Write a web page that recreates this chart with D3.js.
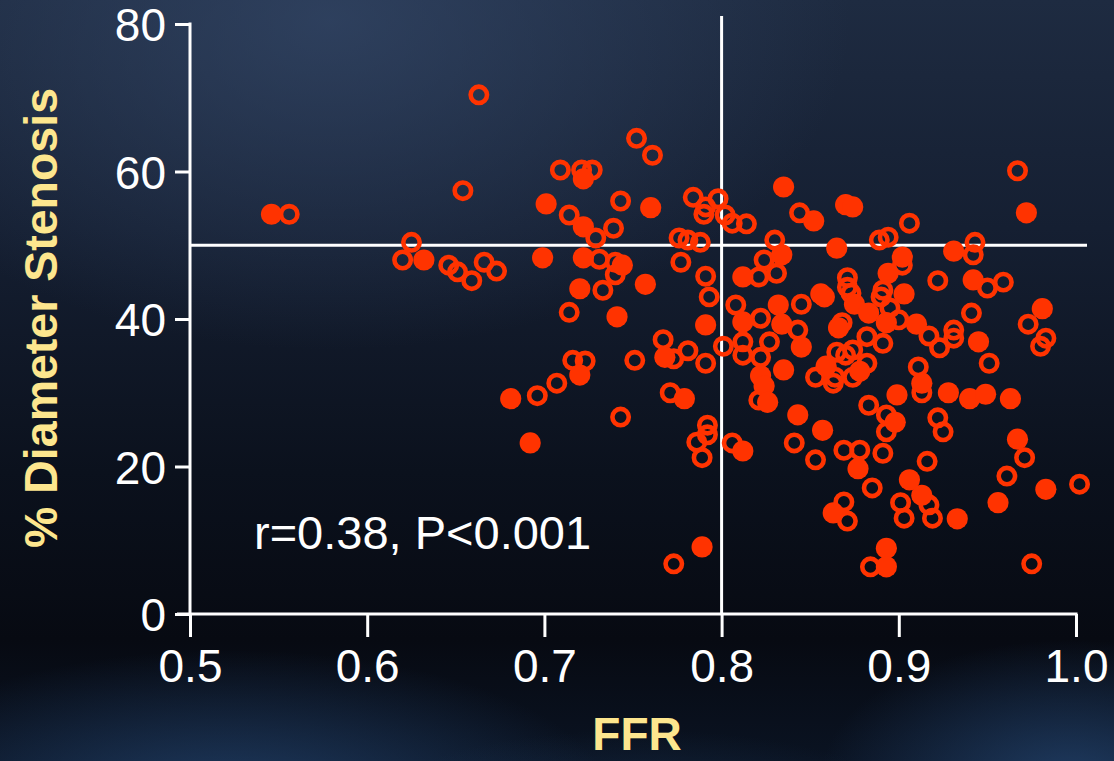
<!DOCTYPE html>
<html>
<head>
<meta charset="utf-8">
<script src="https://cdn.jsdelivr.net/npm/d3@7"></script>
<style>
  html, body { margin: 0; padding: 0; background: #0b111d; }
  svg { display: block; }
</style>
</head>
<body>
<div id="chart"></div>
<script>
// Fractional flow reserve vs. percent diameter stenosis
const xTicks = [0.5, 0.6, 0.7, 0.8, 0.9, 1.0];
const yTicks = [0, 20, 40, 60, 80];
const ffrCutoff = 0.8;
const stenosisCutoff = 50;
const statsLabel = "r=0.38, P<0.001";

// [FFR, % diameter stenosis] — solid markers
const solidPts = [
  [0.546, 54.2], [0.632, 48.0], [0.722, 59.0], [0.701, 55.6], [0.760, 55.1],
  [0.722, 52.5], [0.699, 48.3], [0.722, 48.3], [0.744, 47.3], [0.720, 44.1],
  [0.757, 44.7], [0.741, 40.3], [0.791, 39.2], [0.768, 34.8], [0.720, 32.4],
  [0.681, 29.2], [0.779, 29.2], [0.692, 23.2], [0.789, 9.1], [0.812, 45.7],
  [0.812, 39.6], [0.812, 22.1], [0.835, 57.9], [0.852, 53.3], [0.870, 55.5],
  [0.874, 55.2], [0.865, 49.6], [0.834, 48.7], [0.902, 48.4], [0.894, 46.2],
  [0.903, 43.4], [0.856, 43.4], [0.858, 43.0], [0.832, 41.9], [0.875, 42.0],
  [0.883, 40.8], [0.893, 39.5], [0.910, 39.3], [0.834, 39.3], [0.866, 38.8],
  [0.845, 36.2], [0.859, 33.6], [0.835, 33.1], [0.878, 32.9], [0.822, 32.3],
  [0.824, 30.9], [0.826, 28.7], [0.899, 29.7], [0.898, 26.0], [0.843, 27.0],
  [0.857, 24.9], [0.877, 19.7], [0.906, 18.2], [0.863, 13.7], [0.893, 8.9],
  [0.893, 6.4], [0.972, 54.4], [0.931, 49.2], [0.942, 45.3], [0.945, 36.9],
  [0.981, 41.4], [0.913, 31.3], [0.928, 30.0], [0.940, 29.2], [0.949, 29.8],
  [0.963, 29.2], [0.967, 23.7], [0.913, 16.1], [0.933, 12.9], [0.956, 15.1],
  [0.983, 16.9]
];

// [FFR, % diameter stenosis] — open markers
const hollowPts = [
  [0.556, 54.2], [0.625, 50.4], [0.620, 48.0], [0.646, 47.3], [0.651, 46.4],
  [0.659, 45.2], [0.666, 47.7], [0.673, 46.5], [0.654, 57.4], [0.663, 70.4],
  [0.752, 64.5], [0.761, 62.2], [0.709, 60.2], [0.721, 60.2], [0.727, 60.2],
  [0.743, 56.0], [0.714, 54.1], [0.739, 52.3], [0.729, 51.0], [0.731, 48.1],
  [0.740, 47.7], [0.740, 46.0], [0.733, 43.9], [0.714, 40.9], [0.767, 37.2],
  [0.773, 34.6], [0.781, 35.7], [0.791, 34.0], [0.801, 36.3], [0.751, 34.4],
  [0.716, 34.4], [0.723, 34.3], [0.707, 31.3], [0.696, 29.6], [0.771, 30.0],
  [0.743, 26.7], [0.792, 25.6], [0.792, 24.3], [0.786, 23.3], [0.789, 21.2],
  [0.806, 23.2], [0.773, 6.8], [0.784, 56.5], [0.791, 55.2], [0.798, 56.3],
  [0.790, 54.2], [0.802, 54.1], [0.806, 53.0], [0.814, 52.9], [0.776, 51.0],
  [0.781, 50.7], [0.788, 50.4], [0.777, 47.7], [0.791, 45.8], [0.793, 43.0],
  [0.808, 41.9], [0.844, 54.4], [0.830, 50.7], [0.824, 48.0], [0.831, 46.2],
  [0.821, 45.7], [0.889, 50.7], [0.894, 51.1], [0.906, 53.0], [0.902, 47.3],
  [0.871, 45.6], [0.873, 43.5], [0.891, 43.9], [0.890, 43.0], [0.871, 44.3],
  [0.845, 42.0], [0.895, 41.5], [0.900, 39.9], [0.822, 40.1], [0.843, 38.5],
  [0.868, 39.5], [0.882, 37.6], [0.812, 36.9], [0.827, 36.9], [0.891, 36.7],
  [0.812, 35.1], [0.822, 34.8], [0.865, 35.5], [0.870, 35.1], [0.874, 35.8],
  [0.882, 34.0], [0.853, 32.1], [0.864, 32.1], [0.863, 31.3], [0.874, 32.1],
  [0.821, 29.0], [0.883, 28.3], [0.893, 27.0], [0.893, 24.7], [0.911, 33.5],
  [0.913, 30.0], [0.841, 23.2], [0.853, 20.9], [0.869, 22.2], [0.878, 22.2],
  [0.891, 21.8], [0.885, 17.1], [0.901, 15.1], [0.903, 13.0], [0.869, 15.2],
  [0.871, 12.6], [0.884, 6.4], [0.967, 60.1], [0.943, 50.4], [0.942, 48.7],
  [0.922, 45.2], [0.950, 44.2], [0.959, 45.0], [0.941, 40.8], [0.973, 39.3],
  [0.983, 37.4], [0.980, 36.3], [0.917, 37.7], [0.931, 38.5], [0.931, 37.4],
  [0.923, 36.1], [0.951, 34.0], [0.922, 26.6], [0.925, 24.7], [0.971, 21.2],
  [0.961, 18.7], [0.916, 20.7], [0.917, 14.8], [0.919, 13.0], [1.002, 17.6],
  [0.975, 6.8]
];

const W = 1114, H = 761;
const markColor = "#ff3300";
const titleColor = "#fde68e";
const font = "'Liberation Sans', Arial, Helvetica, sans-serif";

const svg = d3.select("#chart").append("svg")
  .attr("width", W).attr("height", H);

// ---- backdrop ----
const defs = svg.append("defs");
const base = defs.append("linearGradient").attr("id", "bg-base")
  .attr("x1", 0).attr("y1", 0).attr("x2", 0).attr("y2", 1);
[["0%", "#1e2b41"], ["30%", "#151f32"], ["62%", "#0b111d"], ["84%", "#070a12"], ["100%", "#0a1322"]]
  .forEach(([o, c]) => base.append("stop").attr("offset", o).attr("stop-color", c));

function glow(id, color, opacity) {
  const g = defs.append("radialGradient").attr("id", id);
  g.append("stop").attr("offset", "0%").attr("stop-color", color).attr("stop-opacity", opacity);
  g.append("stop").attr("offset", "100%").attr("stop-color", color).attr("stop-opacity", 0);
}
glow("glow-top", "#35496a", 0.7);
glow("glow-low", "#2c5488", 0.6);
glow("glow-mid", "#1c3656", 0.45);

svg.append("rect").attr("width", W).attr("height", H).attr("fill", "url(#bg-base)");
svg.append("ellipse").attr("cx", 330).attr("cy", 20).attr("rx", 520).attr("ry", 330)
  .attr("fill", "url(#glow-top)");
svg.append("ellipse").attr("cx", 230).attr("cy", 800).attr("rx", 380).attr("ry", 150)
  .attr("fill", "url(#glow-low)");
svg.append("ellipse").attr("cx", 1070).attr("cy", 780).attr("rx", 250).attr("ry", 140)
  .attr("fill", "url(#glow-low)");
svg.append("ellipse").attr("cx", 640).attr("cy", 800).attr("rx", 260).attr("ry", 70)
  .attr("fill", "url(#glow-mid)");

// ---- scales ----
const x = d3.scaleLinear().domain([0.5, 1.0]).range([190, 1076]);
const y = d3.scaleLinear().domain([0, 80]).range([614, 24]);

const lineStyle = sel => sel.attr("stroke", "#ffffff").attr("stroke-width", 3).attr("fill", "none");

// ---- cutoff lines ----
svg.append("line").call(lineStyle)
  .attr("x1", x(ffrCutoff)).attr("x2", x(ffrCutoff))
  .attr("y1", 16).attr("y2", y(0));
svg.append("line").call(lineStyle)
  .attr("x1", x(0.5)).attr("x2", 1087)
  .attr("y1", y(stenosisCutoff)).attr("y2", y(stenosisCutoff));

// ---- axes ----
const yAxis = svg.append("g").attr("transform", `translate(${x(0.5)},0)`)
  .call(d3.axisLeft(y).tickValues(yTicks).tickSize(15).tickPadding(9)
    .tickFormat(d3.format("d")));
yAxis.select(".domain").remove();
yAxis.selectAll(".tick line").attr("stroke", "#fff").attr("stroke-width", 3);
yAxis.selectAll(".tick text")
  .attr("fill", "#fff").attr("font-family", font).attr("font-size", 46).attr("dy", "0.36em");
svg.append("line").call(lineStyle)
  .attr("x1", x(0.5)).attr("x2", x(0.5)).attr("y1", y(80) - 1.5).attr("y2", y(0));

const xAxis = svg.append("g").attr("transform", `translate(0,${y(0)})`)
  .call(d3.axisBottom(x).tickValues(xTicks).tickSize(23).tickPadding(10)
    .tickFormat(d3.format(".1f")));
xAxis.select(".domain").remove();
xAxis.selectAll(".tick line").attr("stroke", "#fff").attr("stroke-width", 3);
xAxis.selectAll(".tick text")
  .attr("fill", "#fff").attr("font-family", font).attr("font-size", 46)
  .attr("y", 68).attr("dy", null);
svg.append("line").call(lineStyle)
  .attr("x1", 177).attr("x2", x(1.0) + 1.5).attr("y1", y(0)).attr("y2", y(0));

// ---- markers ----
const marks = svg.append("g");
marks.selectAll("circle.hollow").data(hollowPts).join("circle")
  .attr("class", "hollow")
  .attr("cx", d => x(d[0])).attr("cy", d => y(d[1])).attr("r", 8.2)
  .attr("fill", "none").attr("stroke", markColor).attr("stroke-width", 4.6);
marks.selectAll("circle.solid").data(solidPts).join("circle")
  .attr("class", "solid")
  .attr("cx", d => x(d[0])).attr("cy", d => y(d[1])).attr("r", 10.6)
  .attr("fill", markColor);

// ---- text ----
svg.append("text").text(statsLabel)
  .attr("x", 254).attr("y", 549)
  .attr("fill", "#fff").attr("font-family", font).attr("font-size", 47);

svg.append("text").text("FFR")
  .attr("x", 637).attr("y", 750).attr("text-anchor", "middle")
  .attr("fill", titleColor).attr("font-family", font).attr("font-weight", "bold")
  .attr("font-size", 46);

svg.append("text").text("% Diameter Stenosis")
  .attr("transform", "translate(57,318) rotate(-90)").attr("text-anchor", "middle")
  .attr("fill", titleColor).attr("font-family", font).attr("font-weight", "bold")
  .attr("font-size", 46.5);
</script>
</body>
</html>
